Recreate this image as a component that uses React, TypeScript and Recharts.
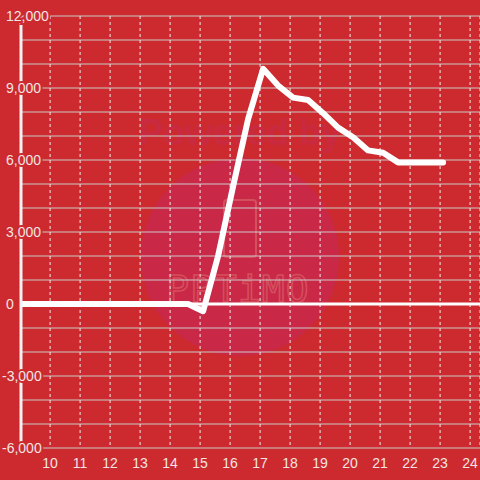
import React from "react";
import {
  LineChart,
  Line,
  XAxis,
  YAxis,
  CartesianGrid,
  ReferenceLine,
} from "recharts";

// hours of the day and the value at each half hour
const hours = [
  9.1, 9.6, 10.1, 10.6, 11.1, 11.6, 12.1, 12.6, 13.1, 13.6, 14.1, 14.6, 15.1,
  15.6, 16.1, 16.6, 17.1, 17.6, 18.1, 18.6, 19.1, 19.6, 20.1, 20.6, 21.1, 21.6,
  22.1, 22.6, 23.1,
];
const values = [
  0, 0, 0, 0, 0, 0, 0, 0, 0, 0, 0, 0, -300, 2000, 4900, 7700, 9800, 9100, 8600,
  8500, 7950, 7350, 6950, 6400, 6300, 5900, 5900, 5900, 5900,
];

const xTicks = [10, 11, 12, 13, 14, 15, 16, 17, 18, 19, 20, 21, 22, 23, 24];
const yTicks = [
  -6000, -5000, -4000, -3000, -2000, -1000, 0, 1000, 2000, 3000, 4000, 5000,
  6000, 7000, 8000, 9000, 10000, 11000, 12000,
];
const yLabels = [-6000, -3000, 0, 3000, 6000, 9000, 12000];

const data = hours.map((h, i) => ({ hour: h, value: values[i] }));

const BG = "#cc2a2f";
const TEXT = "#f3e4e4";
const FONT = "'Liberation Sans', Arial, sans-serif";

const YTick = (props: any) => {
  const { y, payload } = props;
  if (!yLabels.includes(payload.value)) return null;
  return (
    <text
      x={payload.value < 0 ? 2 : 6}
      y={y}
      dy={5}
      textAnchor="start"
      fill={TEXT}
      stroke={BG}
      strokeWidth={4}
      paintOrder="stroke"
      fontSize={14}
      fontFamily={FONT}
    >
      {payload.value.toLocaleString("en-US")}
    </text>
  );
};

const XTick = (props: any) => {
  const { x, payload } = props;
  return (
    <text
      x={x}
      y={468}
      textAnchor="middle"
      fill={TEXT}
      fontSize={14}
      fontFamily={FONT}
    >
      {payload.value}
    </text>
  );
};

const Watermark = () => (
  <svg
    width={480}
    height={480}
    style={{ position: "absolute", left: 0, top: 0 }}
  >
    <text
      x={240}
      y={145}
      textAnchor="middle"
      fontSize={36}
      fontWeight="bold"
      fontFamily={FONT}
      fill="#c92a40"
    >
      Powered by
    </text>
    <circle cx={240} cy={257} r={99} fill="#c92947" />
    <rect
      x={224}
      y={200}
      width={32}
      height={57}
      rx={3}
      fill="none"
      stroke="#d4505e"
      strokeWidth={2}
    />
    <text
      x={238}
      y={302}
      textAnchor="middle"
      fontSize={38}
      fontFamily="'DejaVu Sans Mono', monospace"
      fill="none"
      stroke="#d4505e"
      strokeWidth={1.5}
      letterSpacing={1}
    >
      PPTiMO
    </text>
  </svg>
);

const App: React.FC = () => {
  return (
    <div
      style={{
        position: "fixed",
        left: 0,
        top: 0,
        width: 480,
        height: 480,
        background: BG,
      }}
    >
      <Watermark />
      <div style={{ position: "absolute", left: 0, top: 0 }}>
        <LineChart
          width={480}
          height={480}
          data={data}
          margin={{ top: 16, right: 0, bottom: 0, left: 0 }}
        >
          <CartesianGrid
            vertical={false}
            stroke="#cbcbcb"
            strokeWidth={1}
          />
          <CartesianGrid
            horizontal={false}
            stroke="#ececec"
            strokeDasharray="3 3"
            strokeWidth={1}
          />
          <XAxis
            dataKey="hour"
            type="number"
            domain={[9.03, 24.33]}
            ticks={xTicks}
            interval={0}
            allowDataOverflow
            axisLine={false}
            tickLine={false}
            tick={<XTick />}
            height={32}
          />
          <YAxis
            type="number"
            domain={[-6000, 12000]}
            ticks={yTicks}
            interval={0}
            width={21}
            axisLine={{ stroke: "#f2f2f2", strokeWidth: 3 }}
            tickLine={false}
            tick={<YTick />}
          />
          <ReferenceLine y={0} stroke="#ffffff" strokeWidth={3} />
          <Line
            type="linear"
            dataKey="value"
            stroke="#ffffff"
            strokeWidth={6}
            strokeLinejoin="round"
            strokeLinecap="round"
            dot={false}
            activeDot={false}
            isAnimationActive={false}
          />
        </LineChart>
      </div>
    </div>
  );
};

export default App;
